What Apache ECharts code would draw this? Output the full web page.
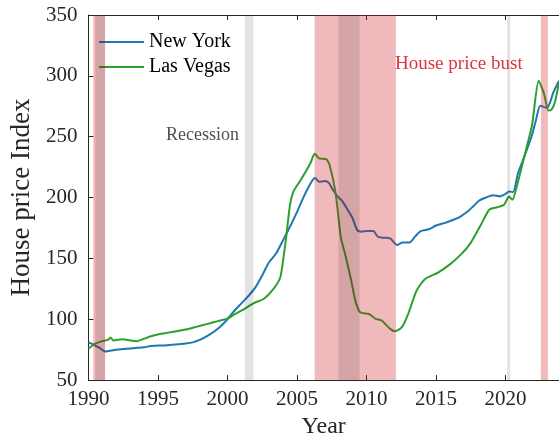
<!DOCTYPE html>
<html>
<head>
<meta charset="utf-8">
<script src="https://cdn.jsdelivr.net/npm/echarts@6/dist/echarts.min.js"></script>
<style>
  html, body { margin: 0; padding: 0; background: #fff; }
  #chart { width: 559px; height: 444px; }
</style>
</head>
<body>
<div id="chart"></div>
<script>
// house price index (year, value)
var nyYears = [1990.0, 1990.4, 1990.8, 1991.2, 1991.5, 1992.0, 1992.5, 1993.0, 1993.5, 1994.0,
  1994.5, 1995.0, 1995.5, 1996.0, 1996.5, 1997.0, 1997.5, 1998.0, 1998.5, 1999.0,
  1999.5, 2000.0, 2000.5, 2001.0, 2001.5, 2002.0, 2002.5, 2003.0, 2003.5, 2004.0,
  2004.5, 2005.0, 2005.5, 2006.0, 2006.3, 2006.6, 2007.0, 2007.3, 2007.6, 2008.0,
  2008.3, 2008.7, 2009.0, 2009.35, 2009.7, 2010.0, 2010.5, 2010.8, 2011.2, 2011.7,
  2012.2, 2012.6, 2013.1, 2013.5, 2013.9, 2014.5, 2015.0, 2015.6, 2016.3, 2016.7,
  2017.3, 2017.7, 2018.1, 2018.6, 2019.1, 2019.6, 2020.0, 2020.25, 2020.55, 2020.9,
  2021.4, 2021.9, 2022.2, 2022.5, 2022.98, 2023.2, 2023.45, 2023.85];
var nyValues = [81, 79, 76.5, 73.5, 74, 75, 75.5, 76, 76.5, 77,
  78, 78.5, 78.5, 79, 79.5, 80, 81, 83, 86, 89.5,
  94, 100, 107, 113, 119, 126, 136, 147, 154, 165,
  176, 188, 201, 212, 216, 213, 213.5, 212, 206, 200,
  196.5, 189, 183, 173, 172, 172.5, 172.5, 168, 167, 166.5,
  161, 163, 163, 168, 172.5, 174, 177, 179, 182, 184,
  188.7, 193, 197.4, 200, 201.8, 201, 203, 205, 204.5, 220,
  235, 251, 264, 275.5, 273.6, 278, 286.6, 296];

var lvYears = [1990.0, 1990.5, 1991.0, 1991.4, 1991.6, 1991.8, 1992.0, 1992.5, 1993.0, 1993.5,
  1994.0, 1994.5, 1995.0, 1995.5, 1996.0, 1996.5, 1997.0, 1997.5, 1998.0, 1998.5,
  1999.0, 1999.5, 2000.0, 2000.5, 2001.2, 2001.9, 2002.6, 2003.3, 2003.8, 2004.0,
  2004.25, 2004.5, 2004.75, 2005.2, 2005.7, 2006.0, 2006.27, 2006.6, 2007.1, 2007.35,
  2007.8, 2008.16, 2008.5, 2008.9, 2009.2, 2009.55, 2010.2, 2010.65, 2011.1, 2011.7,
  2012.07, 2012.55, 2013.0, 2013.6, 2014.2, 2015.15, 2016.0, 2016.8, 2017.5, 2018.24,
  2018.83, 2019.4, 2019.9, 2020.25, 2020.5, 2020.84, 2021.44, 2021.91, 2022.38, 2022.74,
  2023.1, 2023.3, 2023.56, 2023.85];
var lvValues = [75.8, 79.9, 82, 83, 85, 82.5, 83, 83.5, 82.5, 82,
  84, 86, 87.5, 88.5, 89.5, 90.5, 91.5, 93, 94.5, 96,
  97.5, 99, 100.5, 104, 108.4, 113.3, 116.6, 124.7, 134.3, 148,
  169.6, 194, 205, 213.2, 222.7, 229, 236, 232.2, 231.6, 226.7,
  202.3, 167, 152, 132, 115.3, 105.7, 104.3, 100.3, 99, 92.1,
  90.2, 93.5, 104.3, 123.4, 132.9, 138.4, 145.1, 153.3, 162.8, 177.8,
  190, 192, 194.1, 200.9, 198.2, 210.4, 237.7, 259.4, 296, 286.6,
  271.5, 272, 278.5, 295];

// shaded periods [start, end]
var recessions = [[1990.5, 1991.2], [2001.25, 2001.88], [2007.98, 2009.5], [2020.12, 2020.35]];
var busts = [[1990.35, 1991.2], [2006.27, 2012.12], [2022.55, 2023.05]];

var xTicks = [1990, 1995, 2000, 2005, 2010, 2015, 2020];
var yTicks = [50, 100, 150, 200, 250, 300, 350];

function pairs(xs, ys) {
  var out = [];
  for (var i = 0; i < xs.length; i++) out.push([xs[i], ys[i]]);
  return out;
}
function areas(list) {
  return list.map(function (p) { return [{ xAxis: p[0] }, { xAxis: p[1] }]; });
}

var font = 'Liberation Serif';
var axisColor = '#262626';

var option = {
  animation: false,
  backgroundColor: '#fff',
  grid: { left: 83, right: 0, top: 15, bottom: 61 },
  legend: {
    orient: 'vertical',
    left: 99,
    top: 32,
    padding: 0,
    icon: 'rect',
    itemWidth: 45,
    itemHeight: 2,
    itemGap: 5,
    itemTextGap: 3,
    itemStyle: { borderWidth: 0 },
    textStyle: { fontFamily: font, fontSize: 20, color: '#000' },
    data: ['New York', 'Las Vegas']
  },
  xAxis: [{
    type: 'value',
    min: 1990,
    max: 2023.85,
    interval: 5,
    name: 'Year',
    nameLocation: 'middle',
    nameGap: 32,
    nameTextStyle: { fontFamily: font, fontSize: 24, color: axisColor },
    axisLine: { lineStyle: { color: axisColor, width: 1 } },
    axisTick: { inside: true, length: 5, lineStyle: { color: axisColor } },
    axisLabel: {
      fontFamily: font, fontSize: 21, color: axisColor, margin: 9,
      showMaxLabel: false,
      formatter: function (v) { return xTicks.indexOf(v) >= 0 ? String(v) : ''; }
    },
    splitLine: { show: false }
  }, {
    type: 'value',
    position: 'top',
    min: 1990,
    max: 2023.85,
    interval: 5,
    axisLine: { show: true, lineStyle: { color: axisColor, width: 1 } },
    axisTick: { show: true, inside: true, length: 5, lineStyle: { color: axisColor } },
    axisLabel: { show: false },
    splitLine: { show: false }
  }],
  yAxis: {
    type: 'value',
    min: 50,
    max: 350,
    interval: 50,
    name: 'House price Index',
    nameLocation: 'middle',
    nameGap: 50,
    nameTextStyle: { fontFamily: font, fontSize: 27, color: axisColor },
    axisLine: { show: true, lineStyle: { color: axisColor, width: 1 } },
    axisTick: { show: true, inside: true, length: 5, lineStyle: { color: axisColor } },
    axisLabel: {
      fontFamily: font, fontSize: 21, color: axisColor, margin: 11,
      formatter: function (v) { return yTicks.indexOf(v) >= 0 ? String(v) : ''; }
    },
    splitLine: { show: false }
  },
  series: [{
    name: 'New York',
    type: 'line',
    data: pairs(nyYears, nyValues),
    symbol: 'none',
    smooth: 0.2,
    color: '#1f77b4',
    lineStyle: { width: 2, color: '#1f77b4' },
    z: 2
  }, {
    name: 'Las Vegas',
    type: 'line',
    data: pairs(lvYears, lvValues),
    symbol: 'none',
    smooth: 0.2,
    color: '#2ca02c',
    lineStyle: { width: 2, color: '#2ca02c' },
    z: 2
  }, {
    name: 'bust',
    type: 'line',
    data: [],
    z: 5,
    markArea: {
      silent: true,
      z: 5,
      itemStyle: { color: 'rgba(205,22,32,0.3)' },
      data: areas(busts)
    }
  }, {
    name: 'recession',
    type: 'line',
    data: [],
    z: 6,
    markArea: {
      silent: true,
      z: 6,
      itemStyle: { color: 'rgba(0,0,0,0.11)' },
      data: areas(recessions)
    }
  }],
  graphic: [{
    type: 'text',
    left: 166,
    top: 126,
    z: 20,
    style: { text: 'Recession', fontFamily: font, fontSize: 18, fill: '#505050' }
  }, {
    type: 'text',
    left: 395,
    top: 55,
    z: 20,
    style: { text: 'House price bust', fontFamily: font, fontSize: 19, fill: '#dc3340' }
  }]
};

var myChart = echarts.init(document.getElementById('chart'));
myChart.setOption(option);
</script>
</body>
</html>
